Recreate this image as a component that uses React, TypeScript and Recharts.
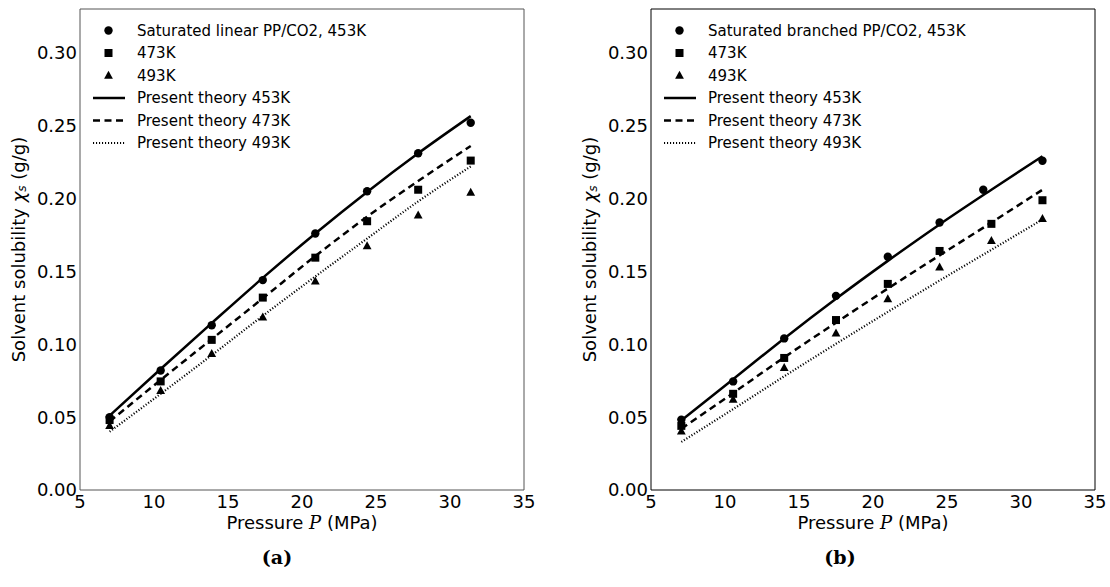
import React from 'react';
import { ComposedChart, Line, Scatter, XAxis, YAxis, Legend } from 'recharts';

// ---- tick values ----
const pressureTicks = [5, 10, 15, 20, 25, 30, 35];
const solubilityTicks = [0, 0.05, 0.1, 0.15, 0.2, 0.25, 0.3];

// ---- (a) linear PP/CO2 ----
const linearPressure = [7.0, 10.45, 13.9, 17.35, 20.9, 24.4, 27.85, 31.4];
const linearExp453 = [0.05, 0.082, 0.113, 0.144, 0.176, 0.205, 0.231, 0.252];
const linearExp473 = [0.048, 0.0745, 0.103, 0.132, 0.1594, 0.1844, 0.206, 0.226];
const linearExp493 = [0.044, 0.068, 0.0934, 0.1184, 0.1432, 0.1673, 0.1885, 0.204];
const linearTheory453 = [0.051, 0.083, 0.1145, 0.1455, 0.176, 0.2045, 0.231, 0.2565];
const linearTheory473 = [0.047, 0.0755, 0.1035, 0.1315, 0.1605, 0.1875, 0.212, 0.236];
const linearTheory493 = [0.04, 0.066, 0.0925, 0.1195, 0.1465, 0.1725, 0.198, 0.222];

// ---- (b) branched PP/CO2 ----
const branchedPressure453 = [7.05, 10.55, 14.0, 17.5, 21.0, 24.5, 27.45, 31.45];
const branchedPressure = [7.05, 10.55, 14.0, 17.5, 21.0, 24.5, 28.0, 31.45];
const branchedExp453 = [0.0483, 0.0745, 0.104, 0.1332, 0.16, 0.1835, 0.206, 0.2259];
const branchedExp473 = [0.044, 0.066, 0.0906, 0.1166, 0.1414, 0.164, 0.1826, 0.1988];
const branchedExp493 = [0.0403, 0.062, 0.0838, 0.1075, 0.131, 0.1528, 0.171, 0.186];
const branchedTheory453 = [0.0478, 0.076, 0.104, 0.1312, 0.1572, 0.1822, 0.206, 0.229];
const branchedTheory473 = [0.042, 0.0665, 0.091, 0.1148, 0.1382, 0.161, 0.1835, 0.206];
const branchedTheory493 = [0.033, 0.0555, 0.078, 0.1003, 0.1222, 0.1437, 0.1648, 0.1856];

const legendLabelsA = [
  'Saturated linear PP/CO2, 453K',
  '473K',
  '493K',
  'Present theory 453K',
  'Present theory 473K',
  'Present theory 493K',
];
const legendLabelsB = [
  'Saturated branched PP/CO2, 453K',
  '473K',
  '493K',
  'Present theory 453K',
  'Present theory 473K',
  'Present theory 493K',
];

const zip = (xs: number[], ys: number[]) => xs.map((x, i) => ({ x, y: ys[i] }));

const FONT = 'DejaVu Sans';
const DASH = '7 4.5';
const DOT = '1.1 1.9';

const CircleMark = (p: any) => <circle cx={p.cx} cy={p.cy} r={4.2} fill="#000" />;
const SquareMark = (p: any) => (
  <rect x={p.cx - 4} y={p.cy - 4} width={8} height={8} fill="#000" />
);
const TriangleMark = (p: any) => (
  <polygon
    points={`${p.cx},${p.cy - 4.8} ${p.cx + 4.4},${p.cy + 3.2} ${p.cx - 4.4},${p.cy + 3.2}`}
    fill="#000"
  />
);

const YLabel = (props: any) => {
  const vb = props.viewBox || { x: 0, y: 0, width: 80, height: 480 };
  const cx = vb.x + vb.width - 62;
  const cy = vb.y + vb.height / 2;
  return (
    <text
      x={cx}
      y={cy}
      transform={`rotate(-90 ${cx} ${cy})`}
      textAnchor="middle"
      dominantBaseline="central"
      fontSize={18}
      fontFamily={FONT}
      fill="#000"
    >
      Solvent solubility{' '}
      <tspan fontStyle="italic">χ</tspan>
      <tspan fontSize={12} fontStyle="italic" dy={4}>s</tspan>
      <tspan dy={-4}> (g/g)</tspan>
    </text>
  );
};

const XLabel = (props: any) => {
  const vb = props.viewBox || { x: 0, y: 490, width: 444, height: 97 };
  const cx = vb.x + vb.width / 2;
  return (
    <text x={cx} y={vb.y + 39} textAnchor="middle" fontSize={18} fontFamily={FONT} fill="#000">
      Pressure <tspan fontStyle="italic" fontFamily="DejaVu Serif">P</tspan> (MPa)
    </text>
  );
};

const LegendBox = ({ labels }: { labels: string[] }) => (
  <svg width={340} height={160} style={{ display: 'block' }}>
    {labels.map((lab, i) => {
      const y = 30.5 + i * 22.5;
      let sample: React.ReactNode = null;
      if (i === 0) sample = <CircleMark cx={28.5} cy={y} />;
      if (i === 1) sample = <SquareMark cx={28.5} cy={y} />;
      if (i === 2) sample = <TriangleMark cx={28.5} cy={y} />;
      if (i === 3) sample = <line x1={13} x2={45} y1={y} y2={y} stroke="#000" strokeWidth={2.5} />;
      if (i === 4)
        sample = (
          <line x1={13} x2={45} y1={y} y2={y} stroke="#000" strokeWidth={2.5} strokeDasharray={DASH} />
        );
      if (i === 5)
        sample = (
          <line x1={13} x2={45} y1={y} y2={y} stroke="#000" strokeWidth={2.2} strokeDasharray={DOT} />
        );
      return (
        <g key={i}>
          {sample}
          <text x={57} y={y} dominantBaseline="central" fontSize={15} fontFamily={FONT} fill="#000">
            {lab}
          </text>
        </g>
      );
    })}
  </svg>
);

type Pt = { x: number; y: number };
type PanelProps = {
  left: number;
  yAxisWidth: number;
  axisColor: string;
  labels: string[];
  caption: string;
  captionX: number;
  exp453: Pt[];
  exp473: Pt[];
  exp493: Pt[];
  th453: Pt[];
  th473: Pt[];
  th493: Pt[];
};

const Panel = (p: PanelProps) => {
  const W = 555;
  const H = 587;
  const plotW = 444;
  const tickFont = { fill: '#000', fontSize: 18, fontFamily: FONT };
  const blank = () => '';
  return (
    <div style={{ position: 'absolute', left: p.left, top: 0, width: W, height: H }}>
      <ComposedChart
        width={W}
        height={H}
        margin={{ top: 9, right: W - p.yAxisWidth - plotW, bottom: 0, left: 0 }}
      >
        <XAxis
          xAxisId="x"
          type="number"
          dataKey="x"
          domain={[5, 35]}
          ticks={pressureTicks}
          interval={0}
          allowDataOverflow
          height={97}
          tickLine={false}
          tickSize={0}
          tickMargin={5}
          stroke={p.axisColor}
          tick={tickFont}
          label={<XLabel />}
        />
        <XAxis
          xAxisId="xb"
          type="number"
          dataKey="x"
          domain={[5, 35]}
          ticks={pressureTicks}
          interval={0}
          mirror
          axisLine={false}
          tickSize={6}
          stroke={p.axisColor}
          tickFormatter={blank}
        />
        <XAxis
          xAxisId="xt"
          orientation="top"
          type="number"
          dataKey="x"
          domain={[5, 35]}
          ticks={pressureTicks}
          interval={0}
          mirror
          tickSize={6}
          stroke={p.axisColor}
          tickFormatter={blank}
        />
        <YAxis
          yAxisId="y"
          type="number"
          dataKey="y"
          domain={[0, 0.33]}
          ticks={solubilityTicks}
          interval={0}
          allowDataOverflow
          width={p.yAxisWidth}
          tickLine={false}
          tickSize={0}
          tickMargin={3}
          stroke={p.axisColor}
          tick={tickFont}
          tickFormatter={(v: number) => v.toFixed(2)}
          label={<YLabel />}
        />
        <YAxis
          yAxisId="yl"
          type="number"
          dataKey="y"
          domain={[0, 0.33]}
          ticks={solubilityTicks}
          interval={0}
          mirror
          axisLine={false}
          tickSize={6}
          stroke={p.axisColor}
          tickFormatter={blank}
        />
        <YAxis
          yAxisId="yr"
          orientation="right"
          type="number"
          dataKey="y"
          domain={[0, 0.33]}
          ticks={solubilityTicks}
          interval={0}
          mirror
          tickSize={6}
          stroke={p.axisColor}
          tickFormatter={blank}
        />
        <Line
          xAxisId="x"
          yAxisId="y"
          data={p.th453}
          dataKey="y"
          type="monotone"
          stroke="#000"
          strokeWidth={2.5}
          dot={false}
          activeDot={false}
          isAnimationActive={false}
        />
        <Line
          xAxisId="x"
          yAxisId="y"
          data={p.th473}
          dataKey="y"
          type="monotone"
          stroke="#000"
          strokeWidth={2.5}
          strokeDasharray={DASH}
          dot={false}
          activeDot={false}
          isAnimationActive={false}
        />
        <Line
          xAxisId="x"
          yAxisId="y"
          data={p.th493}
          dataKey="y"
          type="monotone"
          stroke="#000"
          strokeWidth={2.2}
          strokeDasharray={DOT}
          dot={false}
          activeDot={false}
          isAnimationActive={false}
        />
        <Scatter xAxisId="x" yAxisId="y" data={p.exp453} dataKey="y" shape={CircleMark} isAnimationActive={false} />
        <Scatter xAxisId="x" yAxisId="y" data={p.exp473} dataKey="y" shape={SquareMark} isAnimationActive={false} />
        <Scatter xAxisId="x" yAxisId="y" data={p.exp493} dataKey="y" shape={TriangleMark} isAnimationActive={false} />
        <Legend
          layout="vertical"
          align="center"
          verticalAlign="middle"
          wrapperStyle={{ left: p.yAxisWidth, top: 0, width: 340, height: 160 }}
          content={() => <LegendBox labels={p.labels} />}
        />
      </ComposedChart>
      <div
        style={{
          position: 'absolute',
          left: p.captionX - 40,
          width: 80,
          top: 545,
          textAlign: 'center',
          fontFamily: 'DejaVu Serif',
          fontWeight: 'bold',
          fontSize: 19,
          lineHeight: '24px',
          color: '#000',
        }}
      >
        {p.caption}
      </div>
    </div>
  );
};

export default function App() {
  return (
    <div
      style={{
        position: 'absolute',
        left: 0,
        top: 0,
        width: 1110,
        height: 587,
        background: '#fff',
        fontFamily: FONT,
        overflow: 'hidden',
      }}
    >
      <Panel
        left={0}
        yAxisWidth={80}
        axisColor="#555"
        labels={legendLabelsA}
        caption="(a)"
        captionX={277}
        exp453={zip(linearPressure, linearExp453)}
        exp473={zip(linearPressure, linearExp473)}
        exp493={zip(linearPressure, linearExp493)}
        th453={zip(linearPressure, linearTheory453)}
        th473={zip(linearPressure, linearTheory473)}
        th493={zip(linearPressure, linearTheory493)}
      />
      <Panel
        left={555}
        yAxisWidth={96}
        axisColor="#000"
        labels={legendLabelsB}
        caption="(b)"
        captionX={285}
        exp453={zip(branchedPressure453, branchedExp453)}
        exp473={zip(branchedPressure, branchedExp473)}
        exp493={zip(branchedPressure, branchedExp493)}
        th453={zip(branchedPressure, branchedTheory453)}
        th473={zip(branchedPressure, branchedTheory473)}
        th493={zip(branchedPressure, branchedTheory493)}
      />
    </div>
  );
}
